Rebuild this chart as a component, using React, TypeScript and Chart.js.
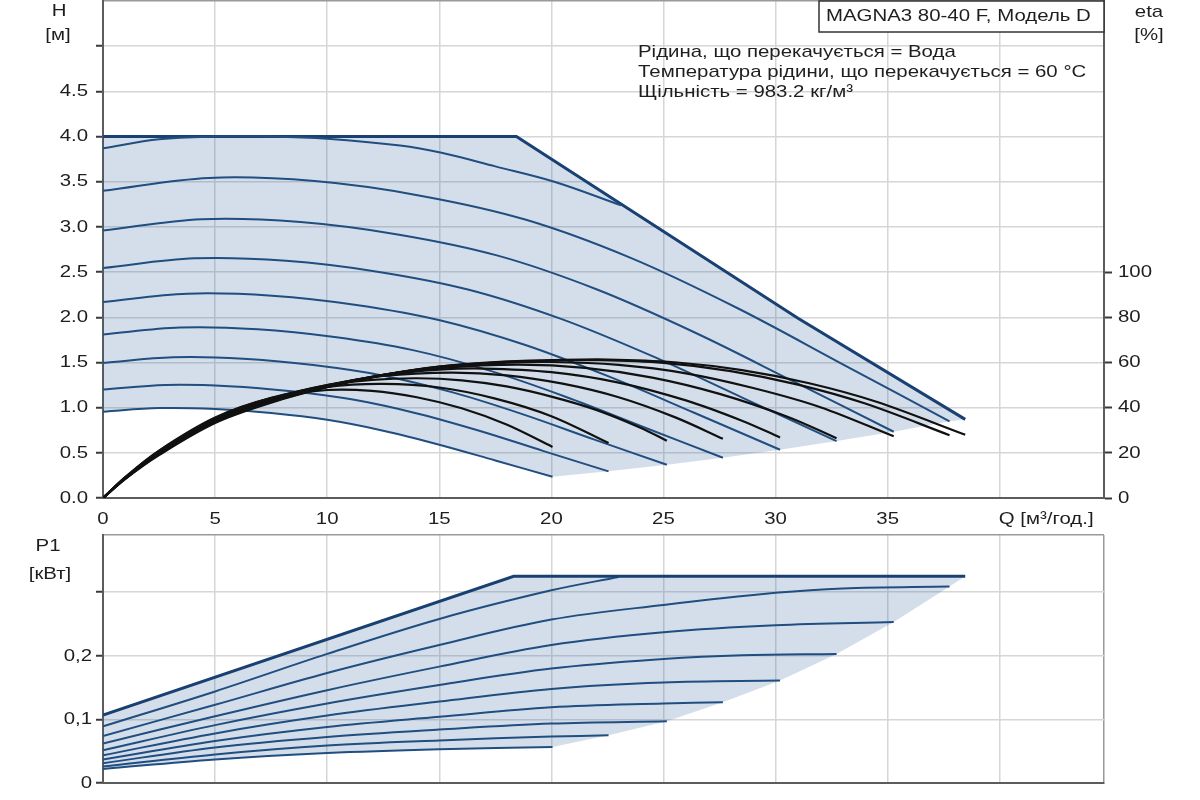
import { useEffect, useRef } from "react"
import { Chart, registerables } from "chart.js"

Chart.register(...registerables)

// Q-H curves [Q м³/год., H м], slowest speed first
const head1 = [[0, 0.955], [2.5, 0.995], [5, 0.985], [7.5, 0.94], [10, 0.865], [12.5, 0.745], [15, 0.59], [17.5, 0.415], [20.05, 0.235]]
const head2 = [[0, 1.2], [2.8, 1.251], [5.61, 1.238], [8.41, 1.182], [11.21, 1.087], [14.01, 0.936], [16.82, 0.742], [19.62, 0.522], [22.55, 0.295]]
const head3 = [[0, 1.495], [3.13, 1.557], [6.26, 1.542], [9.38, 1.471], [12.51, 1.354], [15.64, 1.166], [18.77, 0.923], [21.89, 0.649], [25.15, 0.368]]
const head4 = [[0, 1.81], [3.44, 1.886], [6.89, 1.867], [10.33, 1.781], [13.77, 1.639], [17.21, 1.412], [20.66, 1.118], [24.1, 0.786], [27.65, 0.445]]
const head5 = [[0, 2.17], [3.77, 2.261], [7.54, 2.238], [11.3, 2.136], [15.07, 1.965], [18.84, 1.693], [22.61, 1.34], [26.37, 0.943], [30.2, 0.534]]
const head6 = [[0, 2.545], [4.08, 2.652], [8.16, 2.625], [12.24, 2.505], [16.32, 2.305], [20.4, 1.985], [24.48, 1.572], [28.56, 1.106], [32.72, 0.63]]
const head7 = [[0, 2.96], [4.4, 3.085], [8.81, 3.054], [13.21, 2.914], [17.61, 2.682], [22.01, 2.31], [26.42, 1.829], [30.82, 1.287], [35.27, 0.733]]
const head8 = [[0, 3.4], [4.72, 3.542], [9.44, 3.507], [14.15, 3.346], [18.87, 3.079], [23.59, 2.652], [28.31, 2.1], [33.02, 1.477], [37.76, 0.848]]
const head9 = [[0, 3.87], [2.5, 3.97], [5, 4.0], [7.5, 4.0], [10, 3.975], [13.25, 3.9], [15.1, 3.82], [17.5, 3.67], [20.13, 3.5], [23.1, 3.24]]
const headMax = [[0, 4.0], [18.44, 4.0], [31.0, 1.99], [38.46, 0.87]]

// ККД eta [Q, %] for the same speeds
const eta1 = [[0, 0], [1, 9.3], [2.5, 21], [5, 35.6], [7.5, 44.2], [10, 47.8], [12, 47.4], [14, 44.6], [16, 39.7], [18, 32.5], [20.05, 22.6]]
const eta2 = [[0, 0], [1, 9.2], [2.5, 20.8], [5, 35.3], [7.5, 44.3], [10, 49.2], [12.5, 50.5], [15, 48.9], [17.5, 44], [20, 36.2], [22.55, 24.3]]
const eta3 = [[0, 0], [1, 9.1], [2.5, 20.5], [5, 35], [7.5, 44], [10, 50], [12, 52.3], [14, 53], [16, 52.1], [18, 49.4], [20, 44.9], [22, 39], [24, 31], [25.15, 25.3]]
const eta4 = [[0, 0], [1, 9], [2.5, 20.3], [5, 34.7], [7.5, 43.7], [10, 50], [12.5, 54], [15.5, 55.5], [18, 54.3], [20.5, 50.6], [23, 44.6], [25.5, 35.8], [27.65, 26.2]]
const eta5 = [[0, 0], [1, 8.9], [2.5, 20], [5, 34.4], [7.5, 43.4], [10, 49.8], [12.5, 54.3], [15, 56.8], [17, 57.3], [20, 55.7], [23, 51.1], [26, 43.2], [28.5, 34.2], [30.2, 26.8]]
const eta6 = [[0, 0], [1, 8.8], [2.5, 19.8], [5, 34.1], [7.5, 43.1], [10, 49.6], [12.5, 54.5], [15, 57.5], [18.5, 59], [21.5, 57.6], [24.5, 53.3], [27.5, 46.1], [30.5, 36.1], [32.72, 26.5]]
const eta7 = [[0, 0], [1, 8.7], [2.5, 19.5], [5, 33.8], [7.5, 42.8], [10, 49.4], [12.5, 54.5], [15, 58], [17.5, 59.7], [20, 60.2], [23, 58.9], [26, 55.2], [29, 48.7], [32, 40.2], [35.27, 27.3]]
const eta8 = [[0, 0], [1, 8.6], [2.5, 19.3], [5, 33.5], [7.5, 42.5], [10, 49.2], [12.5, 54.5], [15, 58.2], [17.5, 60], [20, 60.8], [22, 61], [25, 59.8], [28, 56.2], [31, 50.2], [34, 41.8], [37.76, 27.8]]
const eta9 = [[0, 0], [1, 8.5], [2.5, 19], [5, 33.2], [7.5, 42.2], [10, 49], [12.5, 54.4], [15, 58.2], [17.5, 60.2], [20, 61], [22.5, 61.3], [25.5, 60.1], [28.5, 56.6], [31.5, 50.8], [34.5, 42.6], [38.46, 28]]

// P1 [Q, кВт]
const pow1 = [[0, 0.022], [5, 0.037], [10, 0.047], [15, 0.053], [20.05, 0.0567]]
const pow2 = [[0, 0.026], [5, 0.045], [10, 0.059], [15, 0.067], [20, 0.073], [22.55, 0.075]]
const pow3 = [[0, 0.031], [5, 0.056], [10, 0.0725], [15, 0.084], [20, 0.0935], [25.15, 0.097]]
const pow4 = [[0, 0.0368], [5, 0.066], [10, 0.088], [15, 0.104], [20, 0.119], [25, 0.125], [27.65, 0.127]]
const pow5 = [[0, 0.0436], [5, 0.078], [10, 0.106], [15, 0.128], [20, 0.148], [25, 0.158], [30.2, 0.161]]
const pow6 = [[0, 0.0515], [5, 0.091], [10, 0.125], [15, 0.154], [20, 0.18], [25, 0.195], [28.5, 0.201], [32.72, 0.203]]
const pow7 = [[0, 0.062], [5, 0.105], [10, 0.146], [15, 0.183], [20, 0.217], [25, 0.237], [30, 0.248], [35.27, 0.253]]
const pow8 = [[0, 0.074], [5, 0.123], [10, 0.173], [15, 0.217], [20, 0.257], [25, 0.28], [30, 0.299], [33, 0.306], [37.76, 0.309]]
const pow9 = [[0, 0.089], [5, 0.144], [10, 0.203], [15, 0.258], [20, 0.303], [23, 0.324]]
const powMax = [[0, 0.107], [18.32, 0.325], [38.46, 0.325]]

const infoLines = [
  "Рідина, що перекачується = Вода",
  "Температура рідини, що перекачується = 60 °C",
  "Щільність = 983.2 кг/м³",
]
const pumpName = "MAGNA3 80-40 F, Модель D"

const Q_MAX = 44.65
const BLUE = "rgb(32, 78, 128)"
const BLUE_MAX = "rgb(24, 64, 114)"
const FILL = "rgba(40, 90, 150, 0.2)"
const GRID = "#d6d6d6"
const EDGE = "#9a9a9a"
const AXIS = "#5c5c5c"
const TEXT = "#1e1e1e"
const FONT = '17px "Liberation Sans", Arial, sans-serif'
const STRETCH = 1.2

const toPoints = (c: number[][]) => c.map(([x, y]) => ({ x, y }))

function curve(c: number[][], color: string, width: number, axis: string, order: number, smooth = true) {
  return {
    data: toPoints(c),
    borderColor: color,
    borderWidth: width,
    yAxisID: axis,
    order,
    tension: smooth ? 0.35 : 0,
    pointRadius: 0,
    fill: false,
  }
}

// text is slightly widened like the original picture
function drawText(ctx: CanvasRenderingContext2D, text: string, x: number, y: number, align: "left" | "right" | "center") {
  ctx.save()
  ctx.font = FONT
  ctx.fillStyle = TEXT
  ctx.textBaseline = "middle"
  ctx.textAlign = "left"
  const w = ctx.measureText(text).width * STRETCH
  let left = x
  if (align === "right") left = x - w
  if (align === "center") left = x - w / 2
  ctx.translate(left, y)
  ctx.scale(STRETCH, 1)
  ctx.fillText(text, 0, 0)
  ctx.restore()
}

// light blue operating area drawn under the curves
function areaPlugin(id: string, outline: number[][], axis: string) {
  return {
    id,
    beforeDatasetsDraw(chart: any) {
      const { ctx, chartArea, scales } = chart
      const x = scales.x
      const y = scales[axis]
      ctx.save()
      ctx.beginPath()
      ctx.rect(chartArea.left, chartArea.top, chartArea.right - chartArea.left, chartArea.bottom - chartArea.top)
      ctx.clip()
      ctx.beginPath()
      outline.forEach(([q, v], i) => {
        const px = x.getPixelForValue(q)
        const py = y.getPixelForValue(v)
        if (i === 0) ctx.moveTo(px, py)
        else ctx.lineTo(px, py)
      })
      ctx.closePath()
      ctx.fillStyle = FILL
      ctx.fill()
      ctx.restore()
    },
  }
}

const xGridColor = (c: any) => (c.tick && c.tick.value > 44 ? EDGE : GRID)

function HeadChart() {
  const canvasRef = useRef<HTMLCanvasElement>(null)
  const chartRef = useRef<Chart | null>(null)

  useEffect(() => {
    if (!canvasRef.current) return
    if (chartRef.current) chartRef.current.destroy()
    const ctx = canvasRef.current.getContext("2d")
    if (!ctx) return

    const heads = [head1, head2, head3, head4, head5, head6, head7, head8, head9]
    const etas = [eta1, eta2, eta3, eta4, eta5, eta6, eta7, eta8, eta9]
    const outline = [
      ...head1,
      ...heads.slice(1, 8).map(c => c[c.length - 1]),
      ...[...headMax].reverse(),
    ]

    const textPlugin = {
      id: "headText",
      afterDraw(chart: any) {
        const { ctx, chartArea, scales } = chart
        const { x, y, eta } = scales
        y.ticks.forEach((t: any) => {
          if (t.value <= 4.51) drawText(ctx, t.value.toFixed(1), chartArea.left - 15, y.getPixelForValue(t.value), "right")
        })
        eta.ticks.forEach((t: any) => {
          if (t.value <= 100) drawText(ctx, String(t.value), chartArea.right + 14, eta.getPixelForValue(t.value), "left")
        })
        x.ticks.forEach((t: any) => {
          if (t.value <= 35) drawText(ctx, String(t.value), x.getPixelForValue(t.value), chartArea.bottom + 21, "center")
        })
        drawText(ctx, "Q [м³/год.]", x.getPixelForValue(40) - 1, chartArea.bottom + 21, "left")
        drawText(ctx, "H", 59, 11, "center")
        drawText(ctx, "[м]", 58, 35, "center")
        drawText(ctx, "eta", 1149, 12, "center")
        drawText(ctx, "[%]", 1149, 35, "center")

        // pump name box
        ctx.save()
        ctx.fillStyle = "#fff"
        ctx.strokeStyle = "#333"
        ctx.lineWidth = 1.5
        ctx.fillRect(819, 1, chartArea.right - 819, 31)
        ctx.strokeRect(819, 1, chartArea.right - 819, 31)
        ctx.restore()
        drawText(ctx, pumpName, 826, 16, "left")
        infoLines.forEach((line, i) => drawText(ctx, line, 638, 52.5 + i * 20, "left"))
      },
    }

    chartRef.current = new Chart(ctx, {
      type: "line",
      data: {
        datasets: [
          ...etas.map(c => curve(c, "#111", 2.2, "eta", 0)),
          ...heads.map(c => curve(c, BLUE, 2, "y", 1)),
          curve(headMax, BLUE_MAX, 3, "y", 1, false),
        ] as any,
      },
      options: {
        animation: false,
        responsive: false,
        events: [],
        layout: { padding: { top: 1, left: 0, right: 0, bottom: 0 }, autoPadding: false },
        plugins: {
          legend: { display: false },
          tooltip: { enabled: false },
        },
        scales: {
          x: {
            type: "linear",
            min: 0,
            max: Q_MAX,
            ticks: { stepSize: 5, display: false },
            grid: { color: xGridColor, lineWidth: 1.5, drawTicks: false },
            border: { color: AXIS, width: 2 },
            afterFit: (s: any) => { s.height = 32 },
          },
          y: {
            type: "linear",
            position: "left",
            min: 0,
            max: 5.5,
            ticks: { stepSize: 0.5, display: false },
            grid: {
              color: (c: any) => (c.tick && c.tick.value > 5.4 ? EDGE : GRID),
              lineWidth: 1.5,
              tickLength: 7,
              tickWidth: 2,
              tickColor: (c: any) => (c.tick && c.tick.value > 5.01 ? "rgba(0,0,0,0)" : "#3a3a3a"),
            },
            border: { color: AXIS, width: 2 },
            afterFit: (s: any) => { s.width = 103 },
          },
          eta: {
            type: "linear",
            position: "right",
            min: 0,
            max: 220,
            ticks: { stepSize: 20, display: false },
            grid: {
              drawOnChartArea: false,
              tickLength: 8,
              tickWidth: 2,
              tickColor: (c: any) => (c.tick && c.tick.value > 100 ? "rgba(0,0,0,0)" : "#3a3a3a"),
            },
            border: { color: AXIS, width: 2 },
            afterFit: (s: any) => { s.width = 96 },
          },
        },
      } as any,
      plugins: [areaPlugin("headArea", outline, "y"), textPlugin],
    })

    return () => {
      if (chartRef.current) {
        chartRef.current.destroy()
        chartRef.current = null
      }
    }
  }, [])

  return (
    <div style={{ position: "absolute", left: 0, top: 0, width: 1200, height: 530 }}>
      <canvas ref={canvasRef} width={1200} height={530} style={{ display: "block" }} />
    </div>
  )
}

function PowerChart() {
  const canvasRef = useRef<HTMLCanvasElement>(null)
  const chartRef = useRef<Chart | null>(null)

  useEffect(() => {
    if (!canvasRef.current) return
    if (chartRef.current) chartRef.current.destroy()
    const ctx = canvasRef.current.getContext("2d")
    if (!ctx) return

    const powers = [pow1, pow2, pow3, pow4, pow5, pow6, pow7, pow8, pow9]
    const outline = [
      ...pow1,
      ...powers.slice(1, 8).map(c => c[c.length - 1]),
      ...[...powMax].reverse(),
    ]
    const labels: Record<number, string> = { 0: "0", 1: "0,1", 2: "0,2" }

    const textPlugin = {
      id: "powerText",
      afterDraw(chart: any) {
        const { ctx, chartArea, scales } = chart
        const y = scales.y
        y.ticks.forEach((t: any) => {
          const label = labels[Math.round(t.value * 10)]
          if (label && t.value < 0.25) drawText(ctx, label, chartArea.left - 11, y.getPixelForValue(t.value), "right")
        })
        drawText(ctx, "P1", 48, 16, "center")
        drawText(ctx, "[кВт]", 50, 44, "center")
      },
    }

    chartRef.current = new Chart(ctx, {
      type: "line",
      data: {
        datasets: [
          ...powers.map(c => curve(c, BLUE, 2, "y", 1)),
          curve(powMax, BLUE_MAX, 3, "y", 0, false),
        ] as any,
      },
      options: {
        animation: false,
        responsive: false,
        events: [],
        layout: { padding: { top: 5, left: 0, right: 96, bottom: 0 }, autoPadding: false },
        plugins: {
          legend: { display: false },
          tooltip: { enabled: false },
        },
        scales: {
          x: {
            type: "linear",
            min: 0,
            max: Q_MAX,
            ticks: { stepSize: 5, display: false },
            grid: { color: xGridColor, lineWidth: 1.5, drawTicks: false },
            border: { color: AXIS, width: 2 },
            afterFit: (s: any) => { s.height = 17 },
          },
          y: {
            type: "linear",
            position: "left",
            min: 0,
            max: 0.39,
            ticks: { stepSize: 0.1, display: false },
            grid: {
              color: (c: any) => (c.tick && c.tick.value > 0.35 ? EDGE : GRID),
              lineWidth: 1.5,
              tickLength: 7,
              tickWidth: 2,
              tickColor: (c: any) => (c.tick && c.tick.value > 0.35 ? "rgba(0,0,0,0)" : "#3a3a3a"),
            },
            border: { color: AXIS, width: 2 },
            afterFit: (s: any) => { s.width = 103 },
          },
        },
      } as any,
      plugins: [areaPlugin("powerArea", outline, "y"), textPlugin],
    })

    return () => {
      if (chartRef.current) {
        chartRef.current.destroy()
        chartRef.current = null
      }
    }
  }, [])

  return (
    <div style={{ position: "absolute", left: 0, top: 530, width: 1200, height: 270 }}>
      <canvas ref={canvasRef} width={1200} height={270} style={{ display: "block" }} />
    </div>
  )
}

export default function App() {
  return (
    <div style={{ position: "absolute", left: 0, top: 0, width: 1200, height: 800, background: "#fff", overflow: "hidden" }}>
      <HeadChart />
      <PowerChart />
    </div>
  )
}
